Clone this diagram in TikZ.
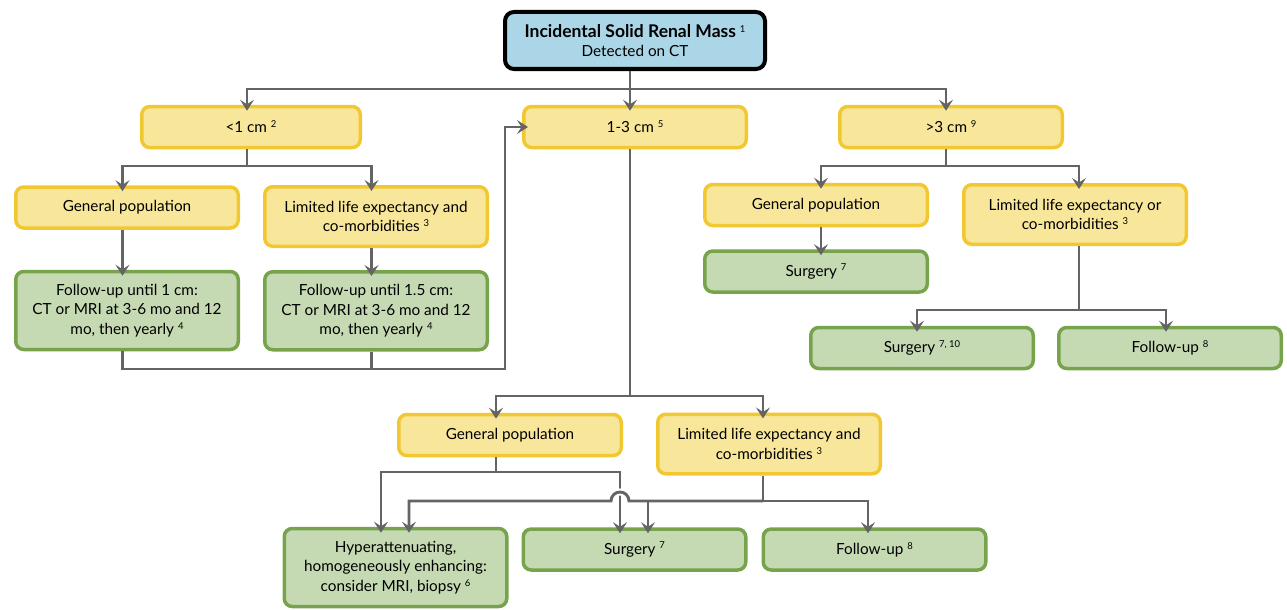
\documentclass[tikz,border=0pt]{standalone}
\usepackage{fontspec}
\setmainfont{Lato}
\definecolor{boxblue}{RGB}{171,214,232}
\definecolor{boxyellow}{RGB}{248,231,155}
\definecolor{edgeyellow}{RGB}{242,200,50}
\definecolor{boxgreen}{RGB}{197,218,179}
\definecolor{edgegreen}{RGB}{118,163,75}
\definecolor{linegray}{RGB}{100,100,100}
\usetikzlibrary{arrows.meta, positioning}
\newcommand{\fnum}[1]{\raisebox{0.65ex}{\fontsize{9.5}{9.5}\selectfont #1}}
\tikzset{
  start/.style={rectangle, rounded corners=9pt, minimum width=260pt, minimum height=57pt, align=center, draw=black, fill=boxblue, line width=4pt},
  choice/.style={rectangle, rounded corners=8pt, minimum width=222.5pt, minimum height=41pt, align=center, draw=edgeyellow, fill=boxyellow, line width=3.5pt},
  outcome/.style={rectangle, rounded corners=8pt, minimum width=222.5pt, minimum height=41pt, align=center, draw=edgegreen, fill=boxgreen, line width=3.5pt},
  twolines/.style={minimum height=59.5pt},
  threelines/.style={minimum height=78pt},
  link/.style={draw=linegray, line width=2.9pt},
  arrow/.style={link, -{Stealth[length=11pt, width=14pt, inset=4.5pt]}, shorten >=-6pt}
}
\begin{document}
\begin{tikzpicture}[x=1pt, y=1pt, font=\fontsize{15.3}{19.5}\selectfont]
  \useasboundingbox (0,0) rectangle (1287,-610);

  % Root node
  \node (root) [start] at (635,-40.5) {{\fontsize{17.5}{20}\selectfont\textbf{Incidental Solid Renal Mass}} \fnum{1}\\Detected on CT};

  % Size classes
  \node (lt1) [choice, minimum width=218.5pt] at (251,-127) {<1 cm \fnum{2}};
  \node (mid) [choice] at (635,-127) {1-3 cm \fnum{5}};
  \node (gt3) [choice] at (951,-127) {>3 cm \fnum{9}};

  % Connections from root
  \coordinate (j0) at (630,-89);
  \draw [arrow] ([xshift=-5pt]root.south) -- ([xshift=-5pt]mid.north);
  \draw [arrow] (j0) -| ([xshift=-4pt]lt1.north);
  \draw [arrow] (j0) -| ([xshift=-5pt]gt3.north);

  % Nodes below <1 cm
  \node (lgen) [choice] at (127,-207.5) {General population};
  \node (llim) [choice, twolines] at (376,-216.5) {Limited life expectancy and\\co-morbidities \fnum{3}};
  \node (lfu1) [outcome, threelines, below=40pt of lgen] {Follow-up until 1 cm:\\CT or MRI at 3-6 mo and 12\\mo, then yearly \fnum{4}};
  \node (lfu2) [outcome, threelines, below=22pt of llim] {Follow-up until 1.5 cm:\\CT or MRI at 3-6 mo and 12\\mo, then yearly \fnum{4}};

  % Connections below <1 cm
  \coordinate (j1) at (247,-166);
  \draw [link] ([xshift=-4pt]lt1.south) -- (j1);
  \draw [arrow] (j1) -| ([xshift=-4.5pt]lgen.north);
  \draw [arrow] (j1) -| ([xshift=-4.5pt]llim.north);
  \draw [arrow] ([xshift=-4.5pt]lgen.south) -- ([xshift=-4.5pt]lfu1.north);
  \draw [arrow] ([xshift=-4.5pt]llim.south) -- ([xshift=-4.5pt]lfu2.north);

  % Back to 1-3 cm
  \coordinate (j2) at (505,-369);
  \draw [arrow] ([xshift=-4.5pt]lfu1.south) |- (j2) |- (mid.west);
  \draw [link] ([xshift=-4.5pt]lfu2.south) -- ([xshift=-4.5pt]lfu2.south |- j2);

  % Nodes below >3 cm
  \node (rgen) [choice] at (816,-205) {General population};
  \node (rlim) [choice, twolines] at (1075,-214.5) {Limited life expectancy or\\co-morbidities \fnum{3}};
  \node (rsurg) [outcome, below=22pt of rgen] {Surgery \fnum{7}};
  \node (rsurg2) [outcome] at (922,-348) {Surgery \fnum{7, 10}};
  \node (rfu) [outcome] at (1170,-348) {Follow-up \fnum{8}};

  % Connections below >3 cm
  \coordinate (j6) at (946,-166);
  \draw [link] ([xshift=-5pt]gt3.south) -- (j6);
  \draw [arrow] (j6) -| ([xshift=5pt]rgen.north);
  \draw [arrow] (j6) -| ([xshift=4pt]rlim.north);
  \draw [arrow] ([xshift=5pt]rgen.south) -- ([xshift=5pt]rsurg.north);
  \coordinate (j7) at (1079,-310);
  \draw [link] ([xshift=4pt]rlim.south) -- (j7);
  \draw [arrow] (j7) -| ([xshift=-5pt]rsurg2.north);
  \draw [arrow] (j7) -| ([xshift=-4pt]rfu.north);

  % Nodes below 1-3 cm
  \node (mgen) [choice] at (510,-435) {General population};
  \node (mlim) [choice, twolines] at (769,-444) {Limited life expectancy and\\co-morbidities \fnum{3}};
  \node (mhyp) [outcome, threelines] at (395.5,-567.5) {Hyperattenuating,\\homogeneously enhancing:\\consider MRI, biopsy \fnum{6}};
  \node (msurg) [outcome] at (634.5,-549.5) {Surgery \fnum{7}};
  \node (mfu) [outcome] at (874.5,-549.5) {Follow-up \fnum{8}};

  % Connections below 1-3 cm
  \coordinate (j3) at (630,-396);
  \draw [link] ([xshift=-5pt]mid.south) -- (j3);
  \draw [arrow] (j3) -| ([xshift=-14pt]mgen.north);
  \draw [arrow] (j3) -| ([xshift=-6pt]mlim.north);
  \coordinate (j4) at (496,-472);
  \draw [link] ([xshift=-14pt]mgen.south) -- (j4);
  \draw [arrow] (j4) -| ([xshift=-14.5pt]mhyp.north);
  \draw [arrow] (j4) -| ([xshift=-14.5pt]msurg.north);
  \coordinate (j5) at (763,-501);
  \draw [link] ([xshift=-6pt]mlim.south) -- (j5);
  % hop over the line to Surgery
  \draw [white, line width=7pt] (629,-501) arc[start angle=0, end angle=180, radius=9pt];
  \draw [arrow] (j5) -- (629,-501) arc[start angle=0, end angle=180, radius=9pt] -| ([xshift=13.5pt]mhyp.north);
  \draw [arrow] (j5) -| ([xshift=13.5pt]msurg.north);
  \draw [arrow] (j5) -| ([xshift=-6.5pt]mfu.north);

\end{tikzpicture}
\end{document}
